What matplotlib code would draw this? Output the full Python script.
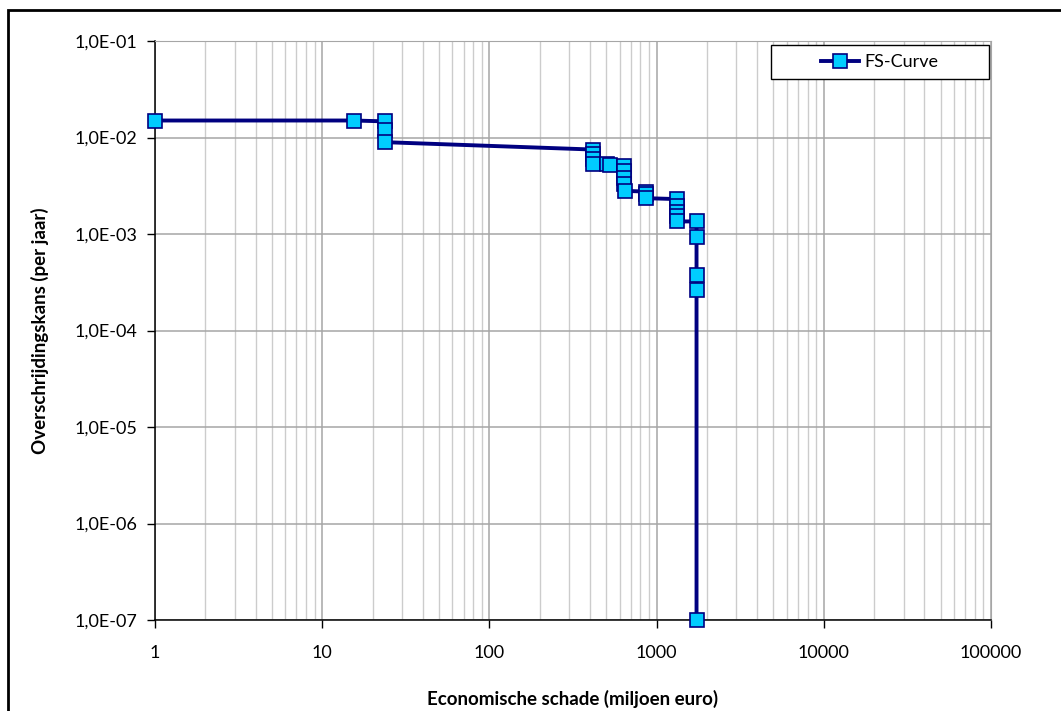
import numpy as np
import matplotlib
matplotlib.use("Agg")
import matplotlib.pyplot as plt
from matplotlib.ticker import FixedLocator, FuncFormatter, NullFormatter
from matplotlib.patches import Rectangle

plt.rcParams['font.family'] = ['Lato', 'DejaVu Sans']

# FS-curve: economische schade (miljoen euro) vs overschrijdingskans (per jaar)
schade = [1, 15.4, 23.6, 23.6, 23.6, 419, 419, 419, 419, 505, 525,
          638, 638, 638, 638, 645, 870, 870, 870,
          1324, 1324, 1324, 1324, 1324, 1733, 1733, 1733, 1733, 1733]
kans = [1.5e-2, 1.5e-2, 1.47e-2, 1.21e-2, 8.95e-3, 7.5e-3, 6.8e-3, 6.0e-3, 5.35e-3, 5.3e-3, 5.2e-3,
        5.1e-3, 4.5e-3, 3.8e-3, 3.3e-3, 2.8e-3, 2.75e-3, 2.6e-3, 2.35e-3,
        2.3e-3, 1.95e-3, 1.7e-3, 1.55e-3, 1.35e-3, 1.35e-3, 9.3e-4, 3.8e-4, 2.65e-4, 1e-7]
reeks = "FS-Curve"

x_ticks = [1, 10, 100, 1000, 10000, 100000]
y_ticks = [1e-7, 1e-6, 1e-5, 1e-4, 1e-3, 1e-2, 1e-1]

W, H = 1061, 711
fig = plt.figure(figsize=(W / 100, H / 100), dpi=100)
ax = fig.add_axes([155 / W, (H - 620) / H, (991 - 155) / W, (620 - 41) / H])

ax.plot(schade, kans, color='#000080', lw=2.8, marker='s', ms=9.5,
        mfc='#00CCFF', mec='#000080', mew=1.2, label=reeks, zorder=5, clip_on=False)

ax.set_xscale('log')
ax.set_yscale('log')
ax.set_xlim(1, 100000)
ax.set_ylim(1e-7, 1e-1)

ax.xaxis.set_major_locator(FixedLocator(x_ticks))
ax.xaxis.set_major_formatter(FuncFormatter(lambda v, p: f"{int(round(v))}"))
ax.yaxis.set_major_locator(FixedLocator(y_ticks))
ax.yaxis.set_major_formatter(FuncFormatter(
    lambda v, p: "1,0E-%02d" % int(round(-np.log10(v)))))
ax.xaxis.set_minor_locator(FixedLocator(
    [m * 10 ** k for k in range(5) for m in range(2, 10)]))
ax.xaxis.set_minor_formatter(NullFormatter())
ax.yaxis.set_minor_locator(FixedLocator([]))

ax.grid(True, which='major', axis='both', color='#a6a6a6', lw=1.1)
ax.grid(True, which='minor', axis='x', color='#cccccc', lw=1.0)
ax.set_axisbelow(True)

ax.tick_params(which='major', direction='out', length=6, width=1, color='black', labelsize=13)
ax.tick_params(axis='x', pad=12)
ax.tick_params(axis='y', pad=7)
ax.tick_params(which='minor', length=0)

for s in ['top', 'right']:
    ax.spines[s].set_color('#a6a6a6')
for s in ['left', 'bottom']:
    ax.spines[s].set_color('black')
    ax.spines[s].set_linewidth(1.1)

ax.set_xlabel("Economische schade (miljoen euro)", fontsize=13.5, fontweight='bold', labelpad=21)
ax.set_ylabel("Overschrijdingskans (per jaar)", fontsize=13.5, fontweight='bold', labelpad=18)

# legend box
ax.add_patch(Rectangle((771 / W, 1 - 79 / H), (989 - 771) / W, 34 / H,
                       transform=fig.transFigure, fc='white', ec='black', lw=1,
                       zorder=10, clip_on=False))
leg = ax.legend(loc='center', bbox_to_anchor=(880 / W, 1 - 62 / H), bbox_transform=fig.transFigure,
                frameon=False, fontsize=13, handlelength=2.1, handletextpad=0.3)
leg.set_zorder(11)

# outer chart frame
fig.patches.append(Rectangle((8 / W, -0.1), 1.2, 1.1 - 10 / H, transform=fig.transFigure,
                             fill=False, ec='black', lw=2))

fig.savefig("out.png", dpi=100)
